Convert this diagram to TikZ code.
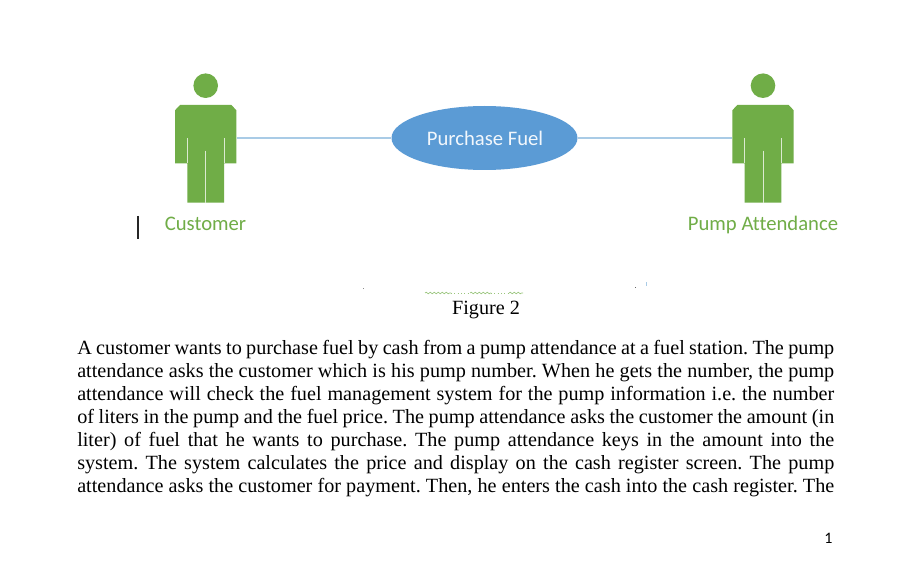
\documentclass[tikz,border=0pt]{standalone}
\usepackage{fontspec}
\setmainfont{Liberation Serif}
\newfontfamily\carl[Ligatures=NoCommon]{Carlito}
\usetikzlibrary{decorations.pathmorphing,shapes.geometric}
\definecolor{actgreen}{HTML}{70AD47}
\definecolor{ucblue}{HTML}{5B9BD5}
\definecolor{linkblue}{HTML}{A9CBE6}
\tikzset{
  px/.style={x=0.75pt,y=-0.75pt},
  slit/.style={draw=white!75!actgreen,line width=0.7pt},
  actorbox/.style={inner sep=0pt,minimum width=46pt,minimum height=43.5pt},
  actorlabel/.style={anchor=base,text=actgreen,inner sep=0pt,font=\carl\fontsize{15.5pt}{18pt}\selectfont},
  usecase/.style={ellipse,fill=ucblue,inner sep=0pt,minimum width=139.5pt,minimum height=48pt},
  uclabel/.style={anchor=base,text=white!92!ucblue,inner sep=0pt,font=\carl\fontsize{15.5pt}{18pt}\selectfont},
  link/.style={draw=linkblue,line width=0.9pt},
  textline/.style={anchor=base west,inner sep=0pt,font=\fontsize{15.15pt}{18pt}\selectfont},
  squiggle/.style={draw=actgreen!70,line width=0.5pt,decorate,decoration={snake,amplitude=0.6pt,segment length=3pt}},
  actorshape/.pic={
    \fill[actgreen] (0,-52.3) circle (12.3);
    \fill[actgreen] (-30.7,-27.7) -- (-25.7,-33) -- (25.7,-33) -- (30.7,-27.7) -- (30.7,25.3)
      -- (18.3,25.3) -- (18.3,64.7) -- (-18.3,64.7) -- (-18.3,25.3) -- (-30.7,25.3) -- cycle;
    \draw[slit] (-18.3,0) -- (-18.3,25.3);
    \draw[slit] (18.3,0) -- (18.3,25.3);
    \draw[slit] (0,12.7) -- (0,64.7);
  }
}
\newcommand{\fullline}[1]{\makebox[567.75pt][s]{\frenchspacing #1}}
\begin{document}
\begin{tikzpicture}[px]
\useasboundingbox (0,0) rectangle (911,581);
\fill[white] (0,0) rectangle (911,581);
% actors
\pic at (205.7,138) {actorshape};
\pic at (763,138) {actorshape};
\node[actorbox] (cust) at (205.7,134) {};
\node[actorbox] (attend) at (763,134) {};
\node[usecase] (uc) at (484.5,138) {};
\node[uclabel] (uctext) at (485,145.5) {Purchase Fuel};
\coordinate (custport) at (cust.east |- uc.west);
\coordinate (attendport) at (attend.west |- uc.east);
\draw[link] (custport) -- (uc.west);
\draw[link] (uc.east) -- (attendport);
\node[actorlabel] (custlabel) at (205.5,231) {Customer};
\node[actorlabel] (attendlabel) at (763,231) {Pump Attendance};
% cursor
\draw[black!85,line width=0.9pt] (138,216) -- (138,239);
% specks
\fill[black!45] (362.5,288) rectangle (363.5,289);
\fill[black!60] (634.5,287.5) rectangle (636,288.5);
\fill[linkblue] (645.5,282) rectangle (646.5,286);
\draw[squiggle] (425,293) -- (451,293);
\draw[squiggle] (470,293) -- (491,293);
\draw[squiggle] (509,293) -- (523,293);
\draw[actgreen!70,line width=0.5pt,dotted] (451,293) -- (470,293);
\draw[actgreen!70,line width=0.5pt,dotted] (491,293) -- (509,293);
% caption
\node[textline,anchor=base] (cap) at (486,315) {Figure 2};
% body
\node[textline] (l1) at (77,354) {\fullline{A customer wants to purchase fuel by cash from a pump attendance at a fuel station. The pump}};
\node[textline] (l2) at (77,377) {\fullline{attendance asks the customer which is his pump number. When he gets the number, the pump}};
\node[textline] (l3) at (77,400) {\fullline{attendance will check the fuel management system for the pump information i.e. the number}};
\node[textline] (l4) at (77,423) {\fullline{of liters in the pump and the fuel price. The pump attendance asks the customer the amount (in}};
\node[textline] (l5) at (77,446) {\fullline{liter) of fuel that he wants to purchase. The pump attendance keys in the amount into the}};
\node[textline] (l6) at (77,469) {\fullline{system. The system calculates the price and display on the cash register screen. The pump}};
\node[textline] (l7) at (77,492) {\fullline{attendance asks the customer for payment. Then, he enters the cash into the cash register. The}};
\node[inner sep=0pt,font=\carl\fontsize{12pt}{14pt}\selectfont] (pg) at (828.5,538) {1};
\end{tikzpicture}
\end{document}
